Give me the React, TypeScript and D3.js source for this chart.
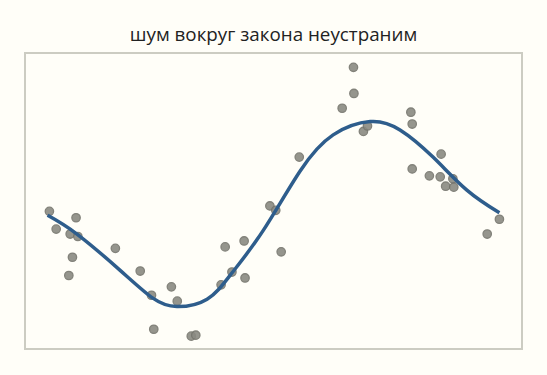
import { useEffect, useRef } from 'react';
import * as d3 from 'd3';

const TITLE = 'шум вокруг закона неустраним';

// observed points (noisy)
const obsX = [
  0.04, 0.19, 0.63, 0.5, 0.67, 0.55, 0.47, 1.5, 2.05, 2.3, 2.74, 2.87, 2.35, 3.18, 3.28, 3.84,
  4.08, 3.93, 4.35, 4.37, 4.92, 5.05, 5.17, 5.57, 6.52, 6.77, 6.78, 6.99, 7.08, 8.04, 8.07, 8.07,
  8.45, 8.71, 8.69, 8.81, 8.97, 8.99, 9.73, 10.0,
];
const obsY = [
  -0.21, -0.57, -0.34, -0.67, -0.72, -1.14, -1.51, -0.96, -1.42, -1.91, -1.74, -2.03, -2.6, -2.74,
  -2.72, -1.7, -1.44, -0.93, -0.81, -1.56, -0.1, -0.19, -1.03, 0.89, 1.88, 2.71, 2.18, 1.41, 1.52,
  1.8, 1.56, 0.65, 0.51, 0.95, 0.49, 0.3, 0.45, 0.28, -0.67, -0.37,
];

// the underlying law
const lawX = [0.0, 0.65, 1.6, 2.33, 2.86, 3.53, 4.08, 4.77, 5.59, 6.32, 7.14, 7.8, 8.53, 9.28, 10.0];
const lawY = [
  -0.29, -0.67, -1.4, -1.97, -2.14, -1.99, -1.46, -0.6, 0.61, 1.34, 1.61, 1.44, 0.89, 0.22, -0.24,
];

const W = 547;
const H = 375;
const BG = '#fffef8';

export default function App() {
  const svgRef = useRef<SVGSVGElement>(null);

  useEffect(() => {
    if (!svgRef.current) return;
    const svg = d3.select(svgRef.current);
    svg.selectAll('*').remove();

    const box = { left: 25, top: 53, right: 522, bottom: 349 };
    const x = d3.scaleLinear().domain([-0.5, 10.5]).range([box.left, box.right]);
    const y = d3.scaleLinear().domain([-3, 3]).range([box.bottom, box.top]);

    svg.append('rect').attr('width', W).attr('height', H).attr('fill', BG);

    svg
      .append('text')
      .attr('x', 273.5)
      .attr('y', 41)
      .attr('text-anchor', 'middle')
      .attr('font-family', '"Open Sans", "Noto Sans", sans-serif')
      .attr('font-size', 18.8)
      .attr('fill', '#222')
      .text(TITLE);

    svg
      .append('rect')
      .attr('x', box.left)
      .attr('y', box.top)
      .attr('width', box.right - box.left)
      .attr('height', box.bottom - box.top)
      .attr('fill', BG)
      .attr('stroke', '#ccccc2')
      .attr('stroke-width', 2);

    const pts = obsX.map((v, i) => [v, obsY[i]] as [number, number]);
    svg
      .append('g')
      .selectAll('circle')
      .data(pts)
      .enter()
      .append('circle')
      .attr('cx', (d) => x(d[0]))
      .attr('cy', (d) => y(d[1]))
      .attr('r', 4.2)
      .attr('fill', '#8a8a82')
      .attr('stroke', '#75756d')
      .attr('stroke-width', 1.3)
      .attr('opacity', 0.9);

    const law = lawX.map((v, i) => [v, lawY[i]] as [number, number]);
    const line = d3
      .line<[number, number]>()
      .x((d) => x(d[0]))
      .y((d) => y(d[1]))
      .curve(d3.curveNatural);
    svg
      .append('path')
      .datum(law)
      .attr('fill', 'none')
      .attr('stroke', '#2e5d8c')
      .attr('stroke-width', 3.5)
      .attr('d', line);
  }, []);

  return (
    <div style={{ position: 'fixed', left: 0, top: 0, width: W, height: H, background: BG }}>
      <svg ref={svgRef} width={W} height={H} style={{ display: 'block' }} />
    </div>
  );
}
